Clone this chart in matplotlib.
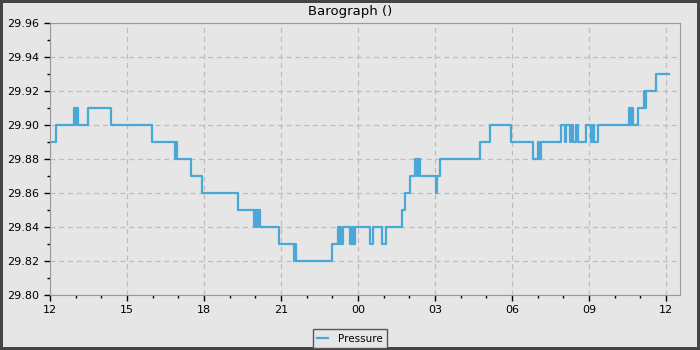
"""
Barograph: 24 h of station pressure as a step trace
"""

import matplotlib
matplotlib.use("Agg")
import matplotlib.pyplot as plt
from matplotlib.ticker import MultipleLocator, FuncFormatter

# hours after 12:00 at which the reading changes, and the new reading (inHg)
change_hours = [
    0.00, 0.23, 0.95, 1.00, 1.04, 1.09, 1.48, 2.36, 3.96, 4.87,
    4.90, 4.95, 5.48, 5.92, 7.31, 7.94, 8.00, 8.06, 8.12, 8.18,
    8.91, 9.49, 9.53, 9.57, 10.99, 11.23, 11.27, 11.31, 11.34, 11.43,
    11.70, 11.76, 11.80, 11.88, 12.48, 12.58, 12.92, 13.09, 13.70, 13.82,
    14.03, 14.23, 14.30, 14.35, 14.42, 15.04, 15.10, 15.20, 16.75, 17.14,
    17.96, 18.83, 19.00, 19.05, 19.13, 19.92, 20.05, 20.10, 20.26, 20.32,
    20.38, 20.50, 20.57, 20.88, 21.07, 21.15, 21.20, 21.35, 22.56, 22.62,
    22.66, 22.71, 22.90, 23.16, 23.20, 23.24, 23.60, 24.13,
]
pressure = [
    29.89, 29.90, 29.91, 29.90, 29.91, 29.90, 29.91, 29.90, 29.89, 29.88,
    29.89, 29.88, 29.87, 29.86, 29.85, 29.84, 29.85, 29.84, 29.85, 29.84,
    29.83, 29.82, 29.83, 29.82, 29.83, 29.84, 29.83, 29.84, 29.83, 29.84,
    29.83, 29.84, 29.83, 29.84, 29.83, 29.84, 29.83, 29.84, 29.85, 29.86,
    29.87, 29.88, 29.87, 29.88, 29.87, 29.86, 29.87, 29.88, 29.89, 29.90,
    29.89, 29.88, 29.89, 29.88, 29.89, 29.90, 29.89, 29.90, 29.89, 29.90,
    29.89, 29.90, 29.89, 29.90, 29.89, 29.90, 29.89, 29.90, 29.91, 29.90,
    29.91, 29.90, 29.91, 29.92, 29.91, 29.92, 29.93, 29.93,
]
start_hour = 12

bg = "#e6e6e6"
line_colour = "#4aa8d8"

fig = plt.figure(figsize=(7, 3.5), dpi=100, facecolor=bg,
                 edgecolor="#444444", linewidth=3)
ax = fig.add_axes([50 / 700, 1 - 295 / 350, 630 / 700, 272 / 350])
ax.set_facecolor(bg)

ax.plot(change_hours, pressure, drawstyle="steps-post", color=line_colour,
        linewidth=1.6, label="Pressure")

ax.set_xlim(0, 24.55)
ax.set_ylim(29.80, 29.96)

# axis ticks: every 3 h / 0.02 labelled, every hour / 0.01 minor
ax.xaxis.set_major_locator(MultipleLocator(3))
ax.xaxis.set_minor_locator(MultipleLocator(1))
ax.xaxis.set_major_formatter(
    FuncFormatter(lambda h, pos: "%02d" % ((int(round(h)) + start_hour) % 24)))
ax.yaxis.set_major_locator(MultipleLocator(0.02))
ax.yaxis.set_minor_locator(MultipleLocator(0.01))
ax.yaxis.set_major_formatter(FuncFormatter(lambda v, pos: "%.2f" % v))

ax.tick_params(which="major", length=4, width=1, labelsize=8, color="black")
ax.tick_params(which="minor", length=2.5, width=1, color="black")
for s in ax.spines.values():
    s.set_color("#999999")

ax.grid(which="major", linestyle=(0, (4, 3)), color="#bdbdbd", linewidth=0.9)
ax.set_axisbelow(True)

fig.text(0.5, 1 - 11 / 350, "Barograph ()", ha="center", va="center",
         fontsize=9.5)

leg = fig.legend(loc="center", bbox_to_anchor=(0.5, 1 - 338.5 / 350),
                 fontsize=7.5, handlelength=1.0, fancybox=False,
                 edgecolor="#555555", facecolor=bg, framealpha=1,
                 borderpad=0.4, handletextpad=1.0, borderaxespad=0.3)
leg.get_frame().set_linewidth(1)

fig.savefig("out.png", dpi=100, facecolor=bg, edgecolor="#444444")
